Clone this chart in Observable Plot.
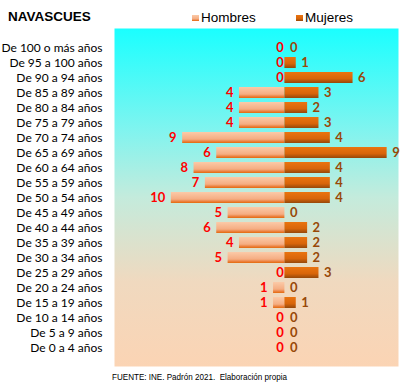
<!DOCTYPE html>
<html><head><meta charset="utf-8">
<script src="https://cdn.jsdelivr.net/npm/d3@7"></script>
<script src="https://cdn.jsdelivr.net/npm/@observablehq/plot@0.6"></script>
<style>
body{margin:0;background:#fff;}
svg{display:block;}
</style>
</head><body><div id="chart"></div>
<script>
const ages = ["De 100 o más años","De 95 a 100 años","De 90 a 94 años","De 85 a 89 años","De 80 a 84 años","De 75 a 79 años","De 70 a 74 años","De 65 a 69 años","De 60 a 64 años","De 55 a 59 años","De 50 a 54 años","De 45 a 49 años","De 40 a 44 años","De 35 a 39 años","De 30 a 34 años","De 25 a 29 años","De 20 a 24 años","De 15 a 19 años","De 10 a 14 años","De 5 a 9 años","De 0 a 4 años"];
const hombres = [0,0,0,4,4,4,9,6,8,7,10,5,6,4,5,0,1,1,0,0,0];
const mujeres = [0,1,6,3,2,3,4,9,4,4,4,0,2,2,2,3,0,1,0,0,0];
const title = "NAVASCUES";
const seriesNames = ["Hombres","Mujeres"];
const source = "FUENTE: INE. Padrón 2021.  Elaboración propia";

const H = ages.map((a,i)=>({age:a, v:hombres[i]}));
const M = ages.map((a,i)=>({age:a, v:mujeres[i]}));
const font = "Lato, 'Liberation Sans', sans-serif";

const chart = Plot.plot({
  width: 400, height: 387,
  marginLeft: 114, marginRight: 2, marginTop: 28, marginBottom: 21,
  style: {fontFamily: font, background: "#fff"},
  x: {domain: [-15, 10], axis: null},
  y: {domain: ages, padding: 0.3, label: null},
  marks: [
    Plot.frame({fill: "url(#bgGrad)", stroke: "none"}),
    Plot.axisY({tickSize: 0, tickPadding: 12, fontSize: 12, fill: "#000", label: null}),
    Plot.barX(H, {y: "age", x1: 0, x2: d => -d.v, fill: "url(#hGrad)"}),
    Plot.barX(M, {y: "age", x1: 0, x2: d => d.v, fill: "url(#mGrad)"}),
    Plot.text(H.filter(d=>d.v>0), {y: "age", x: d => -d.v, text: d => String(d.v), textAnchor: "end", dx: -6, fill: "#ff0000", fontWeight: "bold", fontSize: 13}),
    Plot.text(H.filter(d=>d.v===0), {y: "age", x: 0, text: d => String(d.v), textAnchor: "end", dx: -1, fill: "#ff0000", fontWeight: "bold", fontSize: 13}),
    Plot.text(M, {y: "age", x: d => d.v, text: d => String(d.v), textAnchor: "start", dx: 5, fill: "#984807", fontWeight: "bold", fontSize: 13})
  ]
});

const svg = d3.select(chart);
const defs = svg.insert("defs", ":first-child");
const bg = defs.append("linearGradient").attr("id","bgGrad").attr("x1",0).attr("y1",0).attr("x2",0).attr("y2",1);
[[0,"#1affff"],[0.3,"#80f4ef"],[0.5,"#c4ebdc"],[0.75,"#f0d9bf"],[1,"#fbd4b4"]].forEach(([o,c]) =>
  bg.append("stop").attr("offset",o).attr("stop-color",c));
const hg = defs.append("linearGradient").attr("id","hGrad").attr("x1",0).attr("y1",0).attr("x2",0).attr("y2",1);
hg.append("stop").attr("offset","0").attr("stop-color","#fbcaa8");
hg.append("stop").attr("offset","0.65").attr("stop-color","#f5ad82");
hg.append("stop").attr("offset","0.9").attr("stop-color","#e9772f");
hg.append("stop").attr("offset","1").attr("stop-color","#e46c0a");
const mg = defs.append("linearGradient").attr("id","mGrad").attr("x1",0).attr("y1",0).attr("x2",0).attr("y2",1);
mg.append("stop").attr("offset","0").attr("stop-color","#ea7410");
mg.append("stop").attr("offset","0.6").attr("stop-color","#d8650a");
mg.append("stop").attr("offset","1").attr("stop-color","#96480a");

const extra = svg.append("g").attr("text-anchor","start").attr("font-family","'Liberation Sans', Arial, sans-serif");
extra.append("text").attr("x",8).attr("y",21)
  .attr("font-weight","bold").attr("font-size",13.5).attr("fill","#000").text(title);

const legend = [{name: seriesNames[0], x: 192, fill: "url(#hGrad)"},{name: seriesNames[1], x: 296, fill: "url(#mGrad)"}];
legend.forEach(l => {
  extra.append("rect").attr("x", l.x).attr("y", 15).attr("width", 7).attr("height", 6).attr("fill", l.fill);
  extra.append("text").attr("x", l.x + 9).attr("y", 22)
    .attr("font-size", 13.5).attr("fill","#000").text(l.name);
});

extra.append("text").attr("x",112).attr("y",380)
  .attr("font-size",9.5).attr("fill","#000").attr("textLength",175).attr("lengthAdjust","spacingAndGlyphs").text(source);

document.getElementById("chart").appendChild(chart);
</script>
</body></html>
